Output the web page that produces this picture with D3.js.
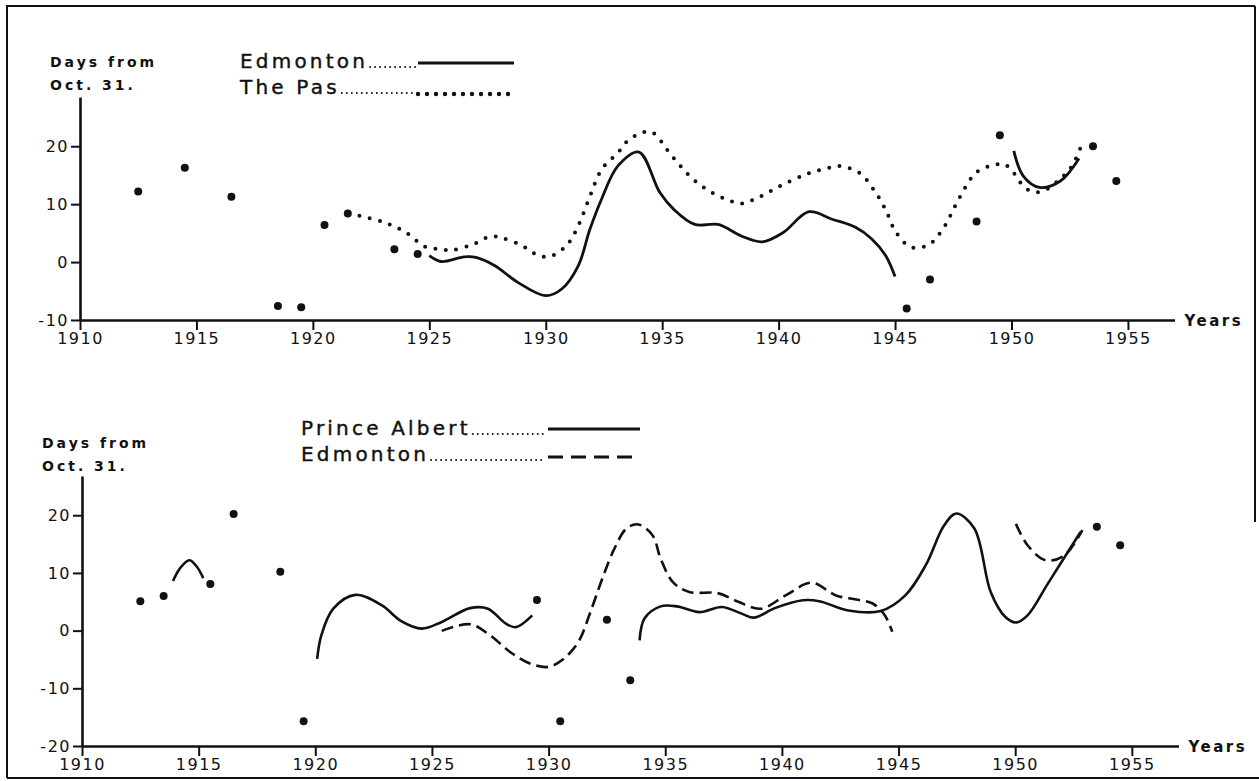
<!DOCTYPE html>
<html>
<head>
<meta charset="utf-8">
<script src="https://cdn.jsdelivr.net/npm/d3@7"></script>
<style>
  html, body { margin: 0; padding: 0; background: #fff; }
  svg { display: block; }
  text { font-family: 'DejaVu Sans', sans-serif; fill: #111; }
</style>
</head>
<body>
<svg id="chart" width="1259" height="781"></svg>
<script>
// ---------- shared axis ticks ----------
const xTickYears = [1910, 1915, 1920, 1925, 1930, 1935, 1940, 1945, 1950, 1955];
const upperYTicks = [-10, 0, 10, 20];
const lowerYTicks = [-20, -10, 0, 10, 20];

// ---------- upper panel: Edmonton (solid) and The Pas (dotted) ----------
const upperDotYears  = [1912.5, 1914.5, 1916.5, 1918.5, 1919.5, 1920.5, 1921.5, 1923.5, 1924.5, 1945.5, 1946.5, 1948.5, 1949.5, 1953.5, 1954.5];
const upperDotValues = [12.2, 16.3, 11.3, -7.6, -7.8, 6.4, 8.4, 2.2, 1.4, -8.0, -3.0, 7.0, 21.9, 20.0, 14.0];

const edmontonUpperA = [
  [1925.0, 1.1], [1925.5, 0.1], [1926.5, 0.9], [1927.0, 0.8], [1927.8, -0.6],
  [1928.8, -3.5], [1930.0, -5.8], [1930.7, -4.6], [1931.4, -0.6], [1931.9, 5.7],
  [1932.4, 10.9], [1933.1, 16.6], [1934.0, 19.0], [1934.9, 12.0], [1935.5, 9.1],
  [1936.4, 6.5], [1937.4, 6.5], [1938.4, 4.5], [1939.3, 3.5], [1940.2, 5.1],
  [1941.3, 8.7], [1942.3, 7.4], [1943.3, 6.0], [1944.0, 4.0], [1944.6, 1.1], [1945.0, -2.5]
];
const edmontonUpperB = [
  [1950.1, 19.2], [1950.5, 14.9], [1951.2, 12.9], [1952.1, 14.0], [1952.9, 17.9]
];
const thePas = [
  [1922.0, 8.0], [1923.1, 6.8], [1924.0, 5.1], [1924.8, 2.7], [1925.5, 2.2],
  [1926.0, 2.1], [1926.9, 3.1], [1927.6, 4.4], [1928.1, 4.2], [1929.0, 2.8],
  [1929.7, 1.1], [1930.2, 1.0], [1930.9, 2.9], [1931.4, 6.3], [1931.9, 11.4],
  [1932.4, 16.0], [1933.1, 18.9], [1933.6, 21.2], [1934.5, 22.5], [1935.4, 18.4],
  [1936.3, 14.4], [1937.1, 12.1], [1937.9, 10.6], [1938.4, 10.1], [1939.1, 11.1],
  [1940.0, 13.0], [1941.2, 15.2], [1942.2, 16.3], [1942.6, 16.6], [1943.5, 15.3],
  [1944.15, 12.1], [1944.6, 9.0], [1945.0, 5.4], [1945.6, 2.7], [1946.05, 2.5],
  [1946.5, 3.1], [1947.1, 6.0], [1947.74, 10.9], [1948.5, 15.5], [1949.3, 16.8],
  [1949.7, 16.9], [1950.06, 15.6], [1950.56, 12.9], [1951.0, 12.1], [1951.4, 12.3],
  [1952.1, 14.4], [1952.6, 16.6], [1953.1, 21.2]
];

// ---------- lower panel: Prince Albert (solid) and Edmonton (dashed) ----------
const lowerDotYears  = [1912.5, 1913.5, 1915.5, 1916.5, 1918.5, 1919.5, 1929.5, 1930.5, 1932.5, 1933.5, 1953.5, 1954.5];
const lowerDotValues = [5.1, 6.0, 8.1, 20.2, 10.2, -15.7, 5.3, -15.7, 1.9, -8.6, 18.0, 14.8];

const princeAlbertA = [
  [1913.9, 8.6], [1914.2, 10.8], [1914.6, 12.2], [1914.9, 11.2], [1915.2, 9.1]
];
const princeAlbertB = [
  [1920.08, -4.9], [1920.26, -0.8], [1920.77, 3.8], [1921.72, 6.2], [1922.84, 4.4],
  [1923.7, 1.6], [1924.56, 0.35], [1925.42, 1.5], [1926.63, 3.9], [1927.4, 3.8],
  [1928.17, 1.2], [1928.6, 0.6], [1929.3, 2.65]
];
const princeAlbertC = [
  [1933.9, -1.7], [1934.11, 2.1], [1934.8, 4.2], [1935.5, 4.2], [1936.47, 3.2],
  [1937.43, 4.1], [1938.3, 2.9], [1938.8, 2.25], [1939.7, 3.9], [1940.9, 5.25],
  [1941.6, 5.1], [1942.84, 3.5], [1944.24, 3.4], [1945.29, 6.1], [1946.16, 11.3],
  [1946.95, 18.2], [1947.47, 20.3], [1948.25, 17.7], [1948.95, 6.7], [1949.57, 2.4],
  [1950.03, 1.4], [1950.53, 2.65], [1951.4, 8.15], [1952.8, 17.1]
];
const edmontonLowerA = [
  [1925.42, -0.05], [1926.63, 1.1], [1927.49, -0.8], [1928.35, -3.7], [1929.2, -5.7],
  [1929.98, -6.3], [1930.58, -5.1], [1931.27, -2.0], [1931.79, 3.2], [1932.3, 9.0],
  [1932.82, 14.2], [1933.34, 17.7], [1933.85, 18.4], [1934.46, 16.5], [1934.8, 12.5],
  [1935.33, 8.4], [1936.03, 6.7], [1937.25, 6.5], [1938.13, 5.0], [1939.09, 3.8],
  [1940.2, 6.2], [1941.27, 8.3], [1942.32, 6.1], [1943.19, 5.4], [1943.89, 4.7],
  [1944.41, 2.65], [1944.73, -0.2]
];
const edmontonLowerB = [
  [1950.03, 18.5], [1950.53, 14.8], [1951.3, 12.2], [1952.1, 13.0], [1952.88, 17.4]
];

// ---------- drawing ----------
const svg = d3.select("#chart");
const INK = "#111";

// outer frame
const frame = svg.append("g").attr("stroke", INK).attr("stroke-width", 2).attr("fill", "none");
frame.append("line").attr("x1", 6).attr("y1", 6).attr("x2", 1255).attr("y2", 6);
frame.append("line").attr("x1", 7).attr("y1", 6).attr("x2", 7).attr("y2", 778);
frame.append("line").attr("x1", 1255).attr("y1", 6).attr("x2", 1255).attr("y2", 522);
frame.append("line").attr("x1", 7).attr("y1", 778).attr("x2", 1259).attr("y2", 778);

function drawPanel(cfg) {
  const g = svg.append("g");
  const x = d3.scaleLinear().domain([1910, 1957]).range(cfg.xRange);
  const y = d3.scaleLinear().domain(cfg.yDomain).range(cfg.yRange);

  // x axis
  const xAxis = g.append("g")
    .attr("transform", `translate(0,${cfg.yRange[0]})`)
    .call(d3.axisBottom(x).tickValues(xTickYears).tickSize(10).tickSizeOuter(0)
      .tickPadding(3).tickFormat(d3.format("d")));
  // y axis
  const yAxis = g.append("g")
    .attr("transform", `translate(${cfg.xRange[0]},0)`)
    .call(d3.axisLeft(y).tickValues(cfg.yTicks).tickSize(9).tickSizeOuter(0)
      .tickPadding(2).tickFormat(d => d < 0 ? "-" + Math.abs(d) : d));

  [xAxis, yAxis].forEach(a => {
    a.select(".domain").attr("stroke", INK).attr("stroke-width", 2.6);
    a.selectAll(".tick line").attr("stroke", INK).attr("stroke-width", 2);
    a.selectAll(".tick text").attr("fill", INK)
      .style("font-family", "'DejaVu Sans', sans-serif")
      .style("font-size", "16px").style("letter-spacing", "1.5px");
  });

  g.append("text")
    .attr("x", cfg.xRange[1] + 10).attr("y", cfg.yRange[0] + 1)
    .attr("dominant-baseline", "middle")
    .style("font-size", "15px").style("font-weight", "bold").style("letter-spacing", "2.5px")
    .text("Years");

  // y label
  g.append("text").attr("x", cfg.labelX).attr("y", cfg.labelY)
    .style("font-size", "14px").style("font-weight", "bold").style("letter-spacing", "3px")
    .text("Days from");
  g.append("text").attr("x", cfg.labelX).attr("y", cfg.labelY + 23)
    .style("font-size", "14px").style("font-weight", "bold").style("letter-spacing", "3px")
    .text("Oct. 31.");

  const line = d3.line().x(d => x(d[0])).y(d => y(d[1])).curve(d3.curveCatmullRom.alpha(0.5));

  cfg.series.forEach(s => {
    s.segments.forEach(seg => {
      g.append("path").datum(seg)
        .attr("d", line)
        .attr("fill", "none")
        .attr("stroke", INK)
        .attr("stroke-width", s.width)
        .attr("stroke-linecap", s.cap || "butt")
        .attr("stroke-linejoin", "round")
        .attr("stroke-dasharray", s.dash || null);
    });
  });

  g.append("g").selectAll("circle")
    .data(d3.zip(cfg.dotYears, cfg.dotValues))
    .join("circle")
    .attr("cx", d => x(d[0])).attr("cy", d => y(d[1]))
    .attr("r", 4).attr("fill", INK);

  // legend
  cfg.series.forEach((s, i) => {
    const ly = cfg.legendY + i * 26;
    const label = g.append("text").attr("x", cfg.legendX).attr("y", ly)
      .style("font-size", "20px").style("letter-spacing", "3.2px")
      .style("stroke", INK).style("stroke-width", 0.4)
      .text(s.name);
    const tw = label.node().getComputedTextLength();
    const leadStart = cfg.legendX + tw + 2;
    g.append("line")
      .attr("x1", leadStart).attr("x2", cfg.swatch[0] - 2)
      .attr("y1", ly - 1).attr("y2", ly - 1)
      .attr("stroke", INK).attr("stroke-width", 2)
      .attr("stroke-linecap", "round").attr("stroke-dasharray", "0 5");
    g.append("line")
      .attr("x1", cfg.swatch[0]).attr("x2", cfg.swatch[1])
      .attr("y1", ly - s.swatchLift).attr("y2", ly - s.swatchLift)
      .attr("stroke", INK).attr("stroke-width", s.width + 0.4)
      .attr("stroke-linecap", s.cap || "butt")
      .attr("stroke-dasharray", s.legendDash || s.dash || null);
  });
}

drawPanel({
  xRange: [80, 1174.5],
  yDomain: [-10, 28.5], yRange: [320, 97],
  yTicks: upperYTicks,
  labelX: 50, labelY: 67,
  legendX: 240, legendY: 68, swatch: [418, 514],
  dotYears: upperDotYears, dotValues: upperDotValues,
  series: [
    { name: "Edmonton", segments: [edmontonUpperA, edmontonUpperB], width: 2.8, swatchLift: 5 },
    { name: "The Pas", segments: [thePas], width: 4, cap: "round", dash: "0 10.5", legendDash: "0 9", swatchLift: 0 }
  ]
});

drawPanel({
  xRange: [82, 1178.5],
  yDomain: [-20, 26.8], yRange: [746, 476],
  yTicks: lowerYTicks,
  labelX: 42, labelY: 448,
  legendX: 301, legendY: 435, swatch: [548, 640],
  dotYears: lowerDotYears, dotValues: lowerDotValues,
  series: [
    { name: "Prince Albert", segments: [princeAlbertA, princeAlbertB, princeAlbertC], width: 2.6, swatchLift: 6 },
    { name: "Edmonton", segments: [edmontonLowerA, edmontonLowerB], width: 2.6, dash: "12 6", legendDash: "15 8", swatchLift: 4 }
  ]
});
</script>
</body>
</html>
